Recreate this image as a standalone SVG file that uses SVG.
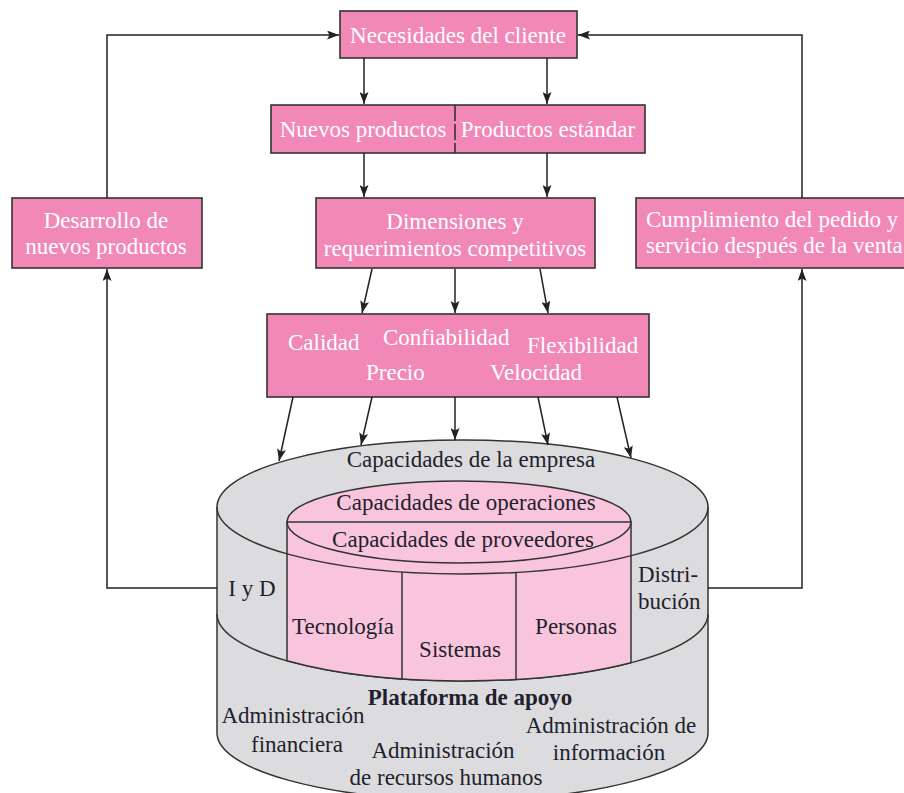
<svg xmlns="http://www.w3.org/2000/svg" width="904" height="793" viewBox="0 0 904 793">
<style>
.box{fill:#f288b8;stroke:#333;stroke-width:1.6}
.wt{font-family:"Liberation Serif","Times New Roman",serif;font-size:23px;fill:#fff}
.dk{font-family:"Liberation Serif","Times New Roman",serif;font-size:23px;fill:#1f1f2e}
.c{text-anchor:middle}
.ln{fill:none;stroke:#222;stroke-width:1.5}
.cyl{stroke:#333;stroke-width:1.5}
</style>
<defs>
<marker id="ah" markerUnits="userSpaceOnUse" markerWidth="12" markerHeight="9" viewBox="0 0 12 9" refX="12" refY="4.5" orient="auto">
<path d="M0,0 L12,4.5 L0,9 L2.5,4.5 Z" fill="#222"/>
</marker>
</defs>
<rect width="904" height="793" fill="#fff"/>

<g id="cilindro">
<path class="cyl" fill="#dcdcde" d="M217,507 L217,733 A245.5,67 0 0 0 708,733 L708,507 A245.5,67 0 0 0 217,507 Z"/>
<path class="cyl" fill="none" d="M217,614 A245.5,67 0 0 0 708,614"/>
<path class="cyl" fill="#f9c5dc" d="M287,522 L287,660.8 A245.5,67 0 0 0 631,662.7 L631,522 Z"/>
<ellipse class="cyl" fill="#f9c5dc" cx="459" cy="522" rx="172" ry="41"/>
<line class="cyl" x1="287" y1="522" x2="631" y2="522"/>
<path class="cyl" fill="none" d="M217,507 A245.5,67 0 0 0 708,507"/>
<line class="cyl" x1="402" y1="572" x2="402" y2="679"/>
<line class="cyl" x1="516" y1="572" x2="516" y2="679"/>
<text class="dk c" x="471" y="467">Capacidades de la empresa</text>
<text class="dk c" x="466" y="510">Capacidades de operaciones</text>
<text class="dk c" x="463" y="547">Capacidades de proveedores</text>
<text class="dk c" x="252" y="596">I y D</text>
<text class="dk" x="638" y="582">Distri-</text>
<text class="dk" x="638" y="609">bución</text>
<text class="dk c" x="343" y="634">Tecnología</text>
<text class="dk c" x="460" y="657">Sistemas</text>
<text class="dk c" x="576" y="634">Personas</text>
<text class="dk c" x="470" y="705" font-weight="bold">Plataforma de apoyo</text>
<text class="dk c" x="293" y="723">Administración</text>
<text class="dk c" x="297" y="752">financiera</text>
<text class="dk c" x="443" y="758">Administración</text>
<text class="dk c" x="446" y="785">de recursos humanos</text>
<text class="dk c" x="611" y="733">Administración de</text>
<text class="dk c" x="609" y="760">información</text>
</g>

<g id="necesidades">
<rect class="box" x="340" y="11" width="237" height="47"/>
<text class="wt c" x="458" y="43">Necesidades del cliente</text>
</g>
<g id="productos">
<rect class="box" x="271" y="105" width="374" height="48"/>
<line x1="455" y1="105" x2="455" y2="153" stroke="#333" stroke-width="1.6" stroke-dasharray="16 3"/>
<text class="wt c" x="363" y="137">Nuevos productos</text>
<text class="wt c" x="548" y="137">Productos estándar</text>
</g>
<g id="dimensiones">
<rect class="box" x="316" y="198" width="279" height="70"/>
<text class="wt c" x="455" y="229">Dimensiones y</text>
<text class="wt c" x="455" y="256">requerimientos competitivos</text>
</g>
<g id="desarrollo">
<rect class="box" x="12" y="198" width="190" height="70"/>
<text class="wt c" x="106" y="228">Desarrollo de</text>
<text class="wt c" x="106" y="254">nuevos productos</text>
</g>
<g id="cumplimiento">
<rect class="box" x="636" y="198" width="290" height="70"/>
<text class="wt" x="646" y="227">Cumplimiento del pedido y</text>
<text class="wt" x="646" y="253">servicio después de la venta</text>
</g>
<g id="calidad">
<rect class="box" x="267" y="314" width="382" height="83"/>
<text class="wt" x="288" y="350">Calidad</text>
<text class="wt" x="383" y="345">Confiabilidad</text>
<text class="wt" x="527" y="353">Flexibilidad</text>
<text class="wt" x="366" y="380">Precio</text>
<text class="wt" x="490" y="380">Velocidad</text>
</g>

<g id="conectores" class="ln" marker-end="url(#ah)">
<line x1="364" y1="58" x2="364" y2="104"/>
<line x1="547" y1="58" x2="547" y2="104"/>
<line x1="364" y1="153" x2="364" y2="197"/>
<line x1="547" y1="153" x2="547" y2="197"/>
<line x1="372" y1="269" x2="362" y2="313"/>
<line x1="455" y1="269" x2="455" y2="313"/>
<line x1="540" y1="269" x2="548" y2="313"/>
<line x1="293" y1="397" x2="279" y2="461"/>
<line x1="372" y1="397" x2="361" y2="445"/>
<line x1="455" y1="397" x2="455" y2="440"/>
<line x1="538" y1="397" x2="548" y2="445"/>
<line x1="617" y1="397" x2="631" y2="458"/>
<polyline points="107,198 107,35 339,35"/>
<polyline points="802,198 802,35 578,35"/>
<polyline points="217,588 107,588 107,269"/>
<polyline points="708,588 802,588 802,269"/>
</g>
</svg>
